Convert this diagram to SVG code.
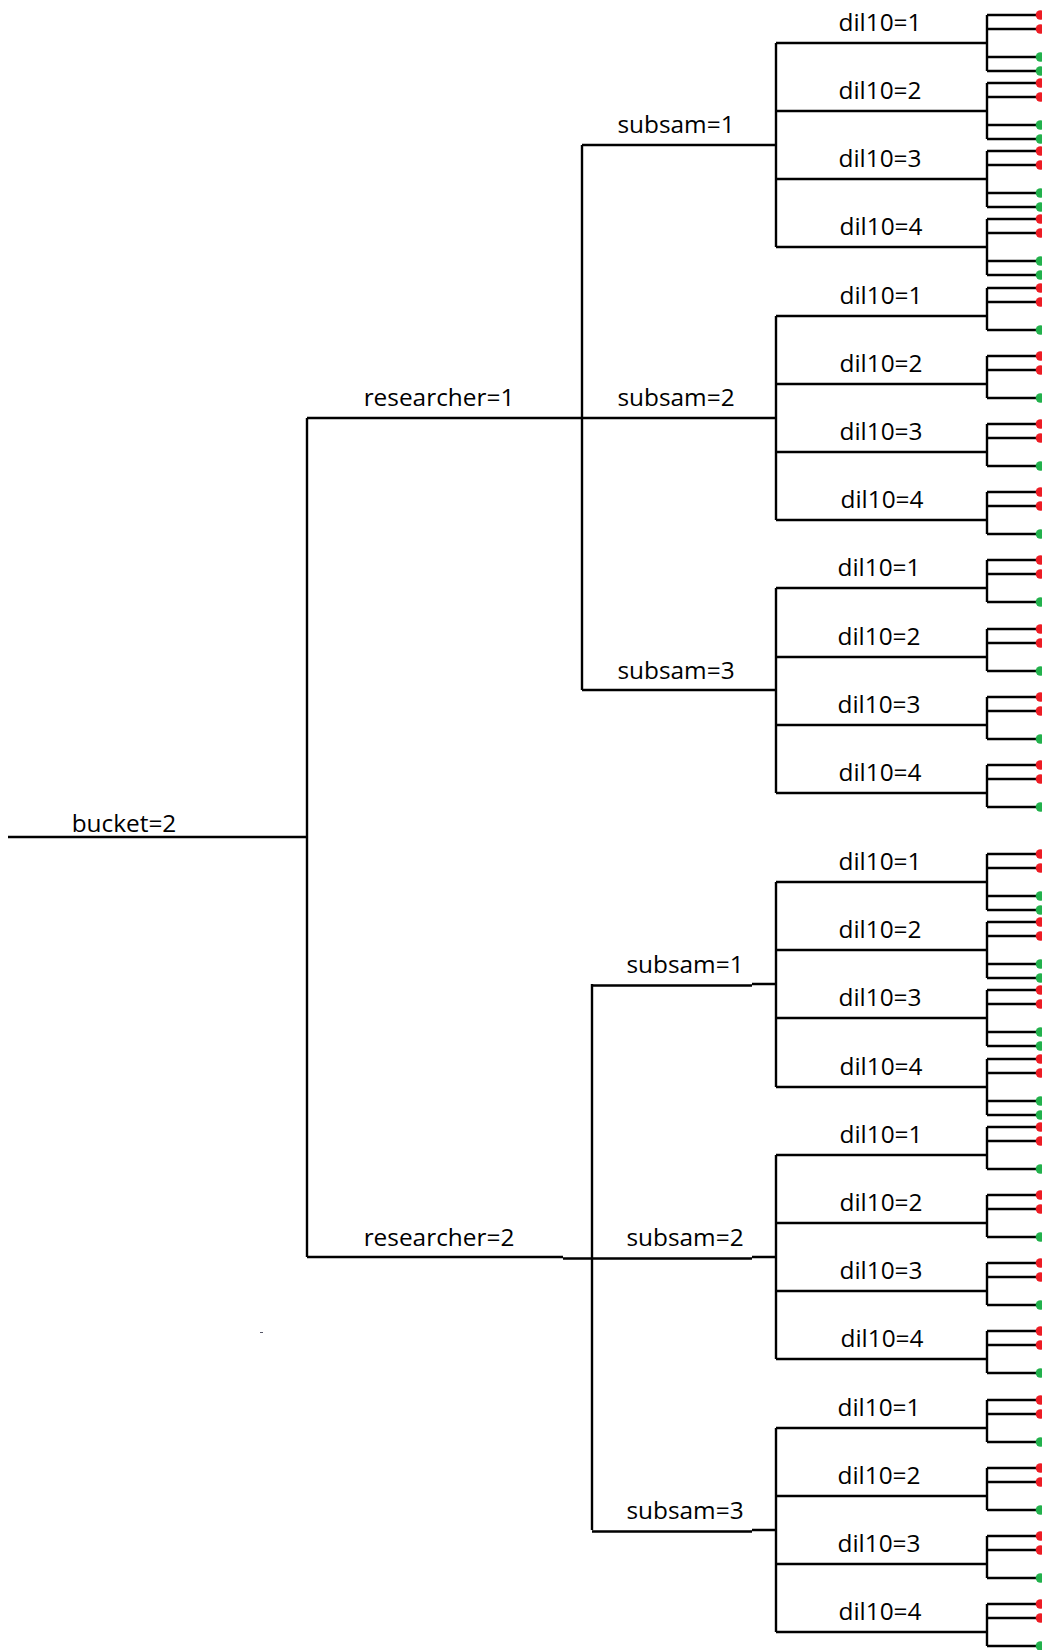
<svg xmlns="http://www.w3.org/2000/svg" xmlns:xlink="http://www.w3.org/1999/xlink" width="1042" height="1650" viewBox="0 0 1042 1650">
<style>
.ln{stroke:#000;stroke-width:2.4;fill:none}
.t{font-family:"Open Sans","Liberation Sans",sans-serif;font-size:24.4px;fill:#000;text-anchor:middle}
.r{fill:#ed1c24}
.g{fill:#22b14c}
</style>
<defs>
<g id="b4"><path class="ln" d="M987 -28 V28 M987 -28 H1038 M987 -14 H1038 M987 14 H1038 M987 28 H1038"/></g>
<g id="b3"><path class="ln" d="M987 -28 V14 M987 -28 H1038 M987 -14 H1038 M987 14 H1038"/></g>
<g id="d4"><circle class="r" cx="1040.5" cy="-28" r="4.8"/><circle class="r" cx="1040.5" cy="-14" r="4.8"/><circle class="g" cx="1040.5" cy="14" r="4.8"/><circle class="g" cx="1040.5" cy="28" r="4.8"/></g>
<g id="d3"><circle class="r" cx="1040.5" cy="-28" r="4.8"/><circle class="r" cx="1040.5" cy="-14" r="4.8"/><circle class="g" cx="1040.5" cy="14" r="4.8"/></g>
</defs>
<rect width="1042" height="1650" fill="#fff"/>
<g id="connectors">
<path class="ln" d="M8 837 H307 M307 418 V1257"/>
<path class="ln" d="M307 418 H582 M582 418 H776 M582 145 V690 M582 145 H776 M582 690 H776"/>
<path class="ln" d="M307 1257 H563 M563 1258.5 H752 M752 1257 H776 M592 984 V1530 M592 985.5 H752 M752 984 H776 M592 1531.5 H752 M752 1530 H776"/>
<path class="ln" d="M776 43 V247 M776 316 V520 M776 588 V793 M776 882 V1087 M776 1155 V1359 M776 1428 V1632"/>
<path class="ln" d="M776 43 H987 M776 111 H987 M776 179 H987 M776 247 H987 M776 316 H987 M776 384 H987 M776 452 H987 M776 520 H987 M776 588 H987 M776 657 H987 M776 725 H987 M776 793 H987 M776 882 H987 M776 950 H987 M776 1018 H987 M776 1087 H987 M776 1155 H987 M776 1223 H987 M776 1291 H987 M776 1359 H987 M776 1428 H987 M776 1496 H987 M776 1564 H987 M776 1632 H987"/>
<use xlink:href="#b4" y="43"/><use xlink:href="#b4" y="111"/><use xlink:href="#b4" y="179"/><use xlink:href="#b4" y="247"/>
<use xlink:href="#b3" y="316"/><use xlink:href="#b3" y="384"/><use xlink:href="#b3" y="452"/><use xlink:href="#b3" y="520"/>
<use xlink:href="#b3" y="588"/><use xlink:href="#b3" y="657"/><use xlink:href="#b3" y="725"/><use xlink:href="#b3" y="793"/>
<use xlink:href="#b4" y="882"/><use xlink:href="#b4" y="950"/><use xlink:href="#b4" y="1018"/><use xlink:href="#b4" y="1087"/>
<use xlink:href="#b3" y="1155"/><use xlink:href="#b3" y="1223"/><use xlink:href="#b3" y="1291"/><use xlink:href="#b3" y="1359"/>
<use xlink:href="#b3" y="1428"/><use xlink:href="#b3" y="1496"/><use xlink:href="#b3" y="1564"/><use xlink:href="#b3" y="1632"/>
</g>
<g id="n-bucket"><text class="t" x="124" y="832">bucket=2</text></g>
<g id="n-r1"><text class="t" x="439" y="406">researcher=1</text></g>
<g id="n-r2"><text class="t" x="439" y="1246">researcher=2</text></g>
<g id="n-r1-s1"><text class="t" x="676" y="133">subsam=1</text></g>
<g id="n-r1-s2"><text class="t" x="676" y="406">subsam=2</text></g>
<g id="n-r1-s3"><text class="t" x="676" y="678.5">subsam=3</text></g>
<g id="n-r2-s1"><text class="t" x="685" y="972.5">subsam=1</text></g>
<g id="n-r2-s2"><text class="t" x="685" y="1246">subsam=2</text></g>
<g id="n-r2-s3"><text class="t" x="685" y="1518.5">subsam=3</text></g>
<g id="n-r1-s1-d1"><text class="t" x="880" y="30.7">dil10=1</text><use xlink:href="#d4" y="43"/></g>
<g id="n-r1-s1-d2"><text class="t" x="880" y="98.7">dil10=2</text><use xlink:href="#d4" y="111"/></g>
<g id="n-r1-s1-d3"><text class="t" x="880" y="166.7">dil10=3</text><use xlink:href="#d4" y="179"/></g>
<g id="n-r1-s1-d4"><text class="t" x="881" y="234.7">dil10=4</text><use xlink:href="#d4" y="247"/></g>
<g id="n-r1-s2-d1"><text class="t" x="881" y="303.7">dil10=1</text><use xlink:href="#d3" y="316"/></g>
<g id="n-r1-s2-d2"><text class="t" x="881" y="371.7">dil10=2</text><use xlink:href="#d3" y="384"/></g>
<g id="n-r1-s2-d3"><text class="t" x="881" y="439.7">dil10=3</text><use xlink:href="#d3" y="452"/></g>
<g id="n-r1-s2-d4"><text class="t" x="882" y="507.7">dil10=4</text><use xlink:href="#d3" y="520"/></g>
<g id="n-r1-s3-d1"><text class="t" x="879" y="575.7">dil10=1</text><use xlink:href="#d3" y="588"/></g>
<g id="n-r1-s3-d2"><text class="t" x="879" y="644.7">dil10=2</text><use xlink:href="#d3" y="657"/></g>
<g id="n-r1-s3-d3"><text class="t" x="879" y="712.7">dil10=3</text><use xlink:href="#d3" y="725"/></g>
<g id="n-r1-s3-d4"><text class="t" x="880" y="780.7">dil10=4</text><use xlink:href="#d3" y="793"/></g>
<g id="n-r2-s1-d1"><text class="t" x="880" y="869.7">dil10=1</text><use xlink:href="#d4" y="882"/></g>
<g id="n-r2-s1-d2"><text class="t" x="880" y="937.7">dil10=2</text><use xlink:href="#d4" y="950"/></g>
<g id="n-r2-s1-d3"><text class="t" x="880" y="1005.7">dil10=3</text><use xlink:href="#d4" y="1018"/></g>
<g id="n-r2-s1-d4"><text class="t" x="881" y="1074.7">dil10=4</text><use xlink:href="#d4" y="1087"/></g>
<g id="n-r2-s2-d1"><text class="t" x="881" y="1142.7">dil10=1</text><use xlink:href="#d3" y="1155"/></g>
<g id="n-r2-s2-d2"><text class="t" x="881" y="1210.7">dil10=2</text><use xlink:href="#d3" y="1223"/></g>
<g id="n-r2-s2-d3"><text class="t" x="881" y="1278.7">dil10=3</text><use xlink:href="#d3" y="1291"/></g>
<g id="n-r2-s2-d4"><text class="t" x="882" y="1346.7">dil10=4</text><use xlink:href="#d3" y="1359"/></g>
<g id="n-r2-s3-d1"><text class="t" x="879" y="1415.7">dil10=1</text><use xlink:href="#d3" y="1428"/></g>
<g id="n-r2-s3-d2"><text class="t" x="879" y="1483.7">dil10=2</text><use xlink:href="#d3" y="1496"/></g>
<g id="n-r2-s3-d3"><text class="t" x="879" y="1551.7">dil10=3</text><use xlink:href="#d3" y="1564"/></g>
<g id="n-r2-s3-d4"><text class="t" x="880" y="1619.7">dil10=4</text><use xlink:href="#d3" y="1632"/></g>
<rect x="260" y="1332" width="3" height="1" fill="#556"/>
</svg>
